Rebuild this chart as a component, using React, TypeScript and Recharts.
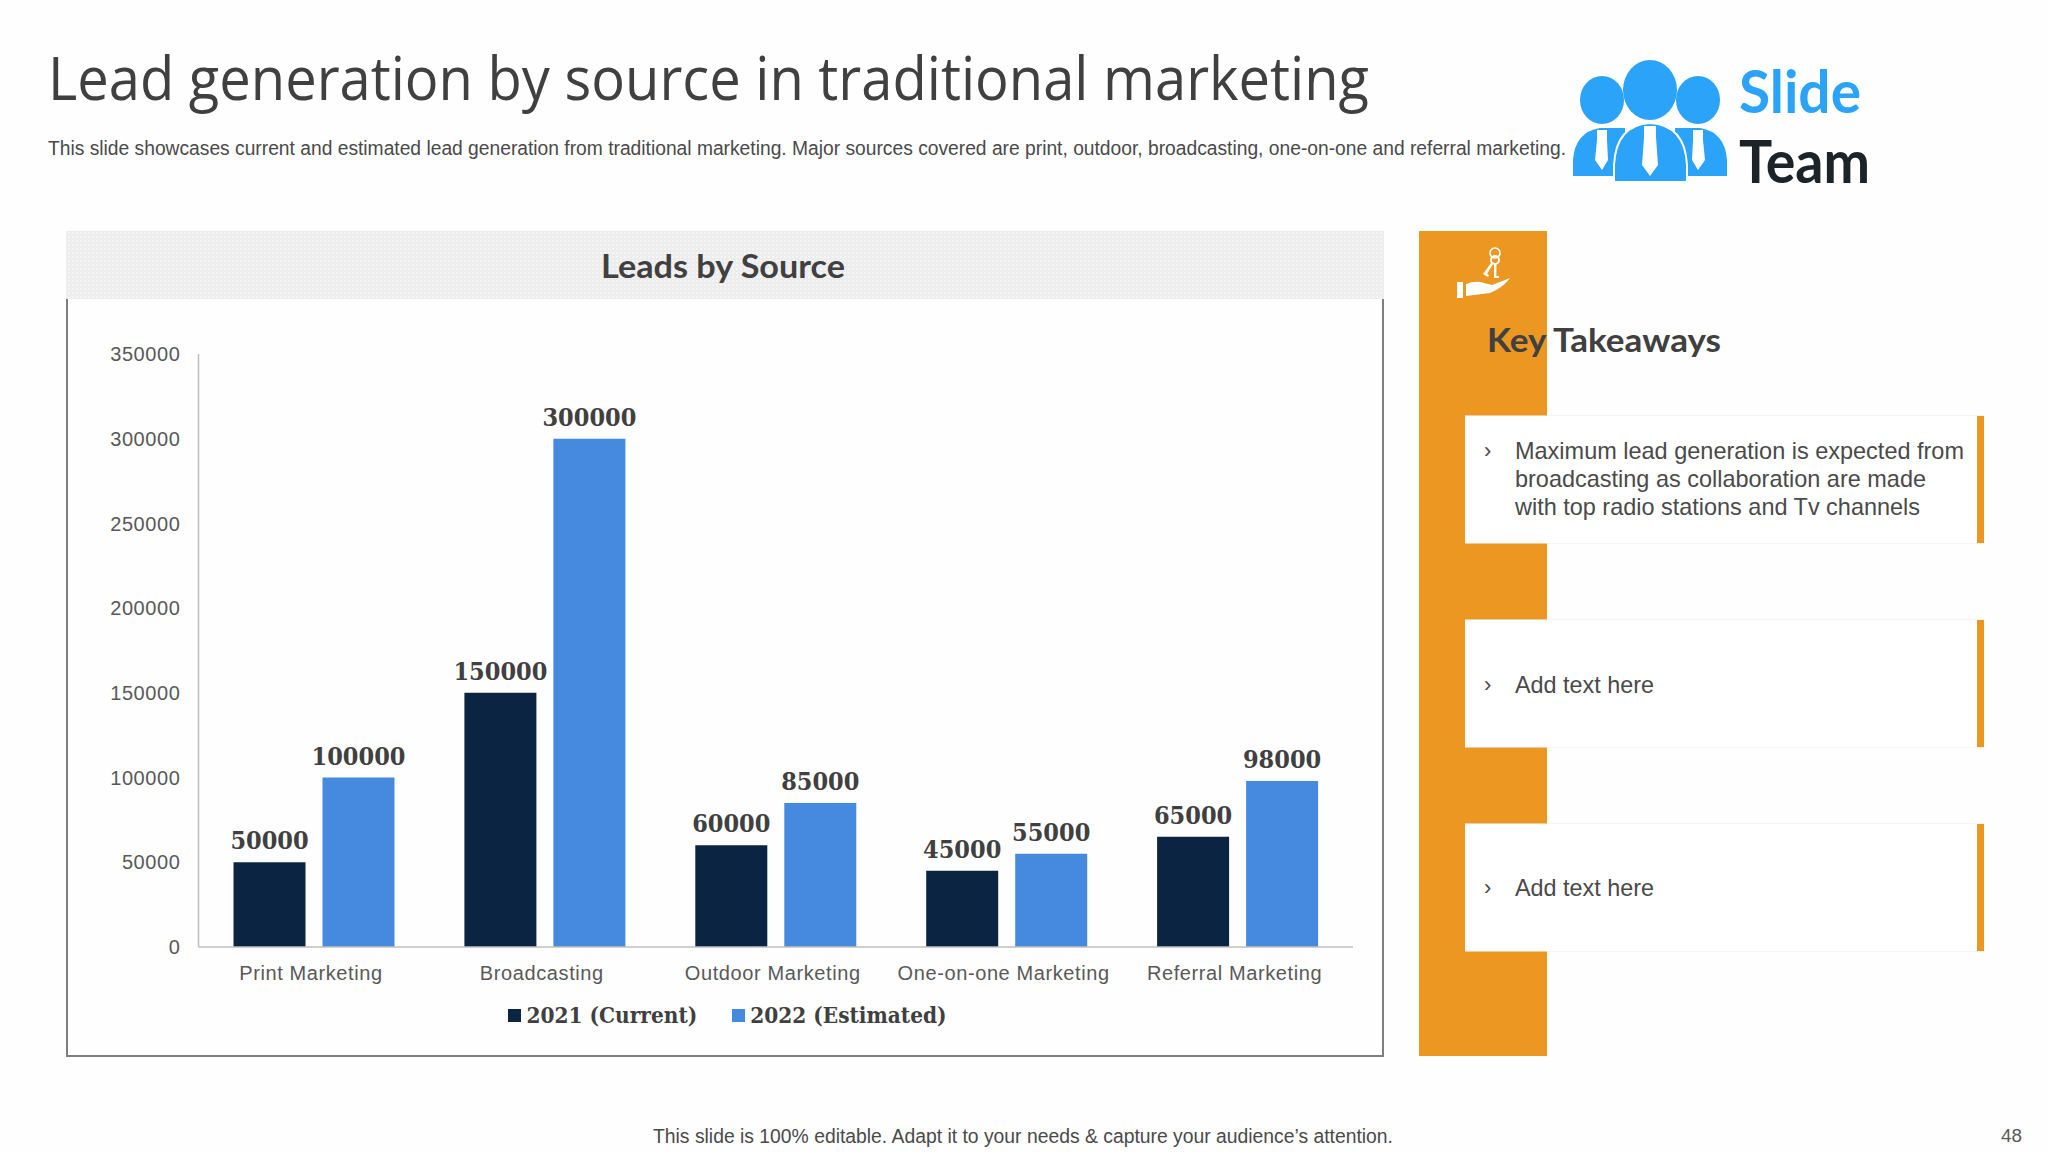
import React from "react";
import { BarChart, Bar, XAxis, YAxis, LabelList, Legend } from "recharts";

const categories = ["Print Marketing", "Broadcasting", "Outdoor Marketing", "One-on-one Marketing", "Referral Marketing"];
const current2021 = [50000, 150000, 60000, 45000, 65000];
const estimated2022 = [100000, 300000, 85000, 55000, 98000];
const yTicks = [0, 50000, 100000, 150000, 200000, 250000, 300000, 350000];
const rows = categories.map((name, i) => ({ name, current: current2021[i], estimated: estimated2022[i] }));

const NAVY = "#0B2442";
const BLUE = "#468ADF";
const ORANGE = "#EC9722";
const TEXT = "#404040";
const BODY = "#4A4A4A";
const LOGO = "#2AA3F8";
const SANS = "'Liberation Sans', Arial, sans-serif";
const SERIF = "'DejaVu Serif Condensed', 'DejaVu Serif', serif";

const takeaway = [
  { t: "Maximum lead generation is expected from", l: 449, y: 459 },
  { t: "broadcasting as collaboration are made", l: 411, y: 487 },
  { t: "with top radio stations and Tv channels", l: 405, y: 515 },
];
const cards = [416, 620, 824];

function Fit({ x, y, w, size, fill = TEXT, family = SANS, weight = 400, children }: any) {
  return (
    <text x={x} y={y} fontSize={size} fill={fill} fontFamily={family} fontWeight={weight}
      textLength={w} lengthAdjust="spacingAndGlyphs">{children}</text>
  );
}

function LegendContent() {
  const items = [
    { c: NAVY, t: "2021 (Current)" },
    { c: BLUE, t: "2022 (Estimated)" },
  ];
  return (
    <div style={{ display: "flex", justifyContent: "center", gap: 35, paddingLeft: 36, marginTop: 3, fontFamily: SERIF, fontWeight: 700, fontSize: 22.4, color: TEXT, lineHeight: "40px" }}>
      {items.map((it) => (
        <span key={it.t} style={{ display: "flex", alignItems: "center", gap: 5 }}>
          <span style={{ width: 13, height: 13, background: it.c, display: "inline-block" }} />
          {it.t}
        </span>
      ))}
    </div>
  );
}

export default function App() {
  const tick = { fill: "#595959", fontFamily: SANS, fontSize: 20, letterSpacing: 0.6 };
  const xTick = { ...tick, dx: -3 };
  const label = { fill: TEXT, fontFamily: SERIF, fontWeight: 700, fontSize: 25 };
  return (
    <div style={{ position: "absolute", left: 0, top: 0, width: 2048, height: 1152, background: "#FEFEFE", overflow: "hidden" }}>
      <svg width={2048} height={1152} style={{ position: "absolute", left: 0, top: 0 }}>
        <defs>
          <pattern id="dots" width={4} height={4} patternUnits="userSpaceOnUse">
            <rect width={4} height={4} fill="#EDEDED" />
            <rect x={0} y={0} width={2} height={2} fill="#F5F5F5" />
          </pattern>
        </defs>
        <Fit x={48} y={100} w={1321} size={60} family="'Open Sans', sans-serif">Lead generation by source in traditional marketing</Fit>
        <Fit x={48} y={155} w={1518} size={20} fill={BODY}>This slide showcases current and estimated lead generation from traditional marketing. Major sources covered are print, outdoor, broadcasting, one-on-one and referral marketing.</Fit>

        <g fill={LOGO}>
          <ellipse cx={1602} cy={100} rx={22} ry={24} />
          <ellipse cx={1698} cy={100} rx={22} ry={24} />
          <path d="M1573 176 L1573 160 Q1575 132 1600 128 L1625 128 L1625 176 Z" />
          <path d="M1727 176 L1727 160 Q1725 132 1700 128 L1675 128 L1675 176 Z" />
          <ellipse cx={1650} cy={90} rx={27} ry={30} />
          <path d="M1614 182 L1614 165 Q1616 125 1650 123 Q1685 125 1687 165 L1687 182 Z" stroke="#FFFFFF" strokeWidth={2} />
        </g>
        <g fill="#FFFFFF">
          <path d="M1644 126 L1656 126 L1656 137 L1658 165 L1650 176 L1642 165 L1644 137 Z" />
          <path d="M1597 130 L1607 130 L1607 140 L1608 160 L1602 170 L1595 160 L1597 140 Z" />
          <path d="M1693 130 L1703 130 L1703 140 L1705 160 L1698 170 L1692 160 L1693 140 Z" />
        </g>
        <Fit x={1739} y={113} w={122} size={60} family="Lato, sans-serif" weight={700} fill={LOGO}>Slide</Fit>
        <Fit x={1739} y={183} w={131} size={60} family="Lato, sans-serif" weight={700} fill="#1C2329">Team</Fit>

        <rect x={66} y={231} width={1318} height={68} fill="url(#dots)" />
        <Fit x={601} y={278} w={244} size={32} family="Lato, sans-serif" weight={700}>Leads by Source</Fit>
        <path d="M67 299 V1056 H1383 V299" fill="none" stroke="#7F7F7F" strokeWidth={2} />

        <rect x={1419} y={231} width={128} height={825} fill={ORANGE} />
        <g fill="#FFFFFF">
          <path d="M1457 282 h6 v16 h-6 Z" />
          <path d="M1466 284 q10 -4 18 -1 l8 2 l18 -7 q-6 9 -20 15 l-24 3 Z" />
          <circle cx={1495} cy={253} r={5} fill="none" stroke="#FFFFFF" strokeWidth={1.6} />
          <circle cx={1495} cy={260} r={4} fill="none" stroke="#FFFFFF" strokeWidth={2} />
          <path d="M1494 263 l2.4 0 l0 13 l2.5 0 l0 2 l-4.9 0 Z M1491 263 l2 1 l-6 10 l2 1 l-1 2 l-5 -3 Z" />
        </g>
        <Fit x={1487} y={352} w={234} size={33} family="Lato, sans-serif" weight={700}>Key Takeaways</Fit>

        {cards.map((y) => (
          <g key={y}>
            <rect x={1465} y={y - 1} width={519} height={129} fill="#EDEDED" opacity={0.6} />
            <rect x={1465} y={y} width={519} height={127} fill="#FFFFFF" />
            <rect x={1977} y={y} width={7} height={127} fill={ORANGE} />
          </g>
        ))}
        <text x={1484} y={458} fontSize={22} fill={BODY} fontFamily={SANS}>›</text>
        {takeaway.map((l) => (
          <Fit key={l.t} x={1515} y={l.y} w={l.l} size={24} fill={BODY}>{l.t}</Fit>
        ))}
        <text x={1484} y={692} fontSize={22} fill={BODY} fontFamily={SANS}>›</text>
        <Fit x={1515} y={693} w={139} size={24} fill={BODY}>Add text here</Fit>
        <text x={1484} y={895} fontSize={22} fill={BODY} fontFamily={SANS}>›</text>
        <Fit x={1515} y={896} w={139} size={24} fill={BODY}>Add text here</Fit>

        <Fit x={653} y={1143} w={740} size={20} fill={BODY}>This slide is 100% editable. Adapt it to your needs &amp; capture your audience’s attention.</Fit>
        <Fit x={2001} y={1142} w={21} size={18} fill="#595959">48</Fit>
      </svg>

      <div style={{ position: "absolute", left: 66, top: 299 }}>
        <BarChart width={1317} height={757} data={rows} barSize={72} barGap={17}
          margin={{ top: 55, right: 30, bottom: 24, left: 0 }}>
          <XAxis dataKey="name" height={45} tick={xTick} tickLine={false} tickMargin={13}
            axisLine={{ stroke: "#BFBFBF", strokeWidth: 1.5 }} interval={0} />
          <YAxis width={132.5} domain={[0, 350000]} ticks={yTicks} tick={tick} tickLine={false} tickMargin={12}
            axisLine={{ stroke: "#BFBFBF", strokeWidth: 1.5 }} />
          <Legend content={<LegendContent />} wrapperStyle={{ height: 40 }} />
          <Bar dataKey="current" name="2021 (Current)" fill={NAVY} isAnimationActive={false}>
            <LabelList dataKey="current" position="top" offset={13} style={label} />
          </Bar>
          <Bar dataKey="estimated" name="2022 (Estimated)" fill={BLUE} isAnimationActive={false}>
            <LabelList dataKey="estimated" position="top" offset={13} style={label} />
          </Bar>
        </BarChart>
      </div>
    </div>
  );
}
